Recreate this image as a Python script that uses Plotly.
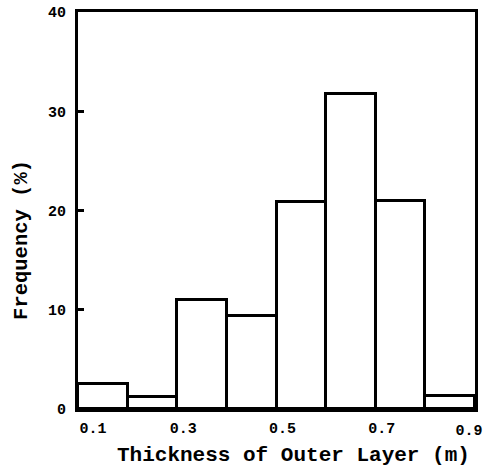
import plotly.graph_objects as go

bin_centers = [0.15, 0.25, 0.35, 0.45, 0.55, 0.65, 0.75, 0.85]
frequency = [2.55, 1.2, 11.0, 9.4, 20.9, 31.7, 21.0, 1.35]
x_tick_vals = [0.1, 0.3, 0.5, 0.7]
x_tick_text = ["\u00a0\u00a00.1", "0.3", "0.5", "0.7"]
x_end_tick_vals = [0.9]
x_end_tick_text = ["0.9"]
y_tick_vals = [0, 10, 20, 30, 40]

FONT = "Liberation Mono"
TICKFONT = dict(family=FONT, size=15, color="black", weight="bold")

fig = go.Figure()
fig.add_trace(go.Bar(
    x=bin_centers, y=frequency, width=0.1,
    marker=dict(color="white", line=dict(color="black", width=3)),
    showlegend=False, hoverinfo="skip",
))
# empty trace so the secondary x axis (carrying the last tick label) is drawn
fig.add_trace(go.Scatter(x=[], y=[], xaxis="x2", showlegend=False, hoverinfo="skip"))

fig.update_layout(
    width=484, height=468,
    margin=dict(l=78, r=9, t=12, b=59, autoexpand=False),
    plot_bgcolor="white", paper_bgcolor="white",
    font=dict(family=FONT, color="black", size=14),
    bargap=0,
    xaxis=dict(
        range=[0.1, 0.9], tickvals=x_tick_vals, ticktext=x_tick_text,
        showline=True, linecolor="black", linewidth=3, mirror=True,
        showgrid=False, zeroline=False, ticks="", automargin=False,
        tickfont=TICKFONT, ticklabelshift=6, ticklabelstandoff=3,
        ticklabeloverflow="allow",
    ),
    xaxis2=dict(
        range=[0.1, 0.9], overlaying="x", side="bottom", anchor="y",
        tickvals=x_end_tick_vals, ticktext=x_end_tick_text,
        showline=False, showgrid=False, zeroline=False, automargin=False,
        ticks="outside", ticklen=4, tickcolor="rgba(0,0,0,0)",
        tickfont=TICKFONT, ticklabelshift=-6, ticklabelstandoff=3,
        ticklabeloverflow="allow",
    ),
    yaxis=dict(
        range=[0, 40], tickvals=y_tick_vals,
        showline=True, linecolor="black", linewidth=3, mirror=True,
        showgrid=False, zeroline=False, automargin=False,
        ticks="inside", ticklen=6, tickwidth=3, tickcolor="black",
        tickfont=TICKFONT, ticklabelstandoff=6, ticklabeloverflow="allow",
    ),
    annotations=[
        dict(text="Thickness of Outer Layer (m)", xref="paper", yref="paper",
             x=0.544, y=-0.116, xanchor="center", yanchor="middle", showarrow=False,
             font=dict(family=FONT, size=21, color="black", weight="bold")),
        dict(text="Frequency (%)", xref="paper", yref="paper", textangle=-90,
             x=-0.141, y=0.426, xanchor="center", yanchor="middle", showarrow=False,
             font=dict(family=FONT, size=20.5, color="black", weight="bold")),
    ],
)

# remove the browser's default 8px body margin so the figure fills the window
fig.write_html(
    "out.html",
    config={"displayModeBar": False},
    post_script="document.body.style.margin='0';document.body.style.overflow='hidden';",
)
